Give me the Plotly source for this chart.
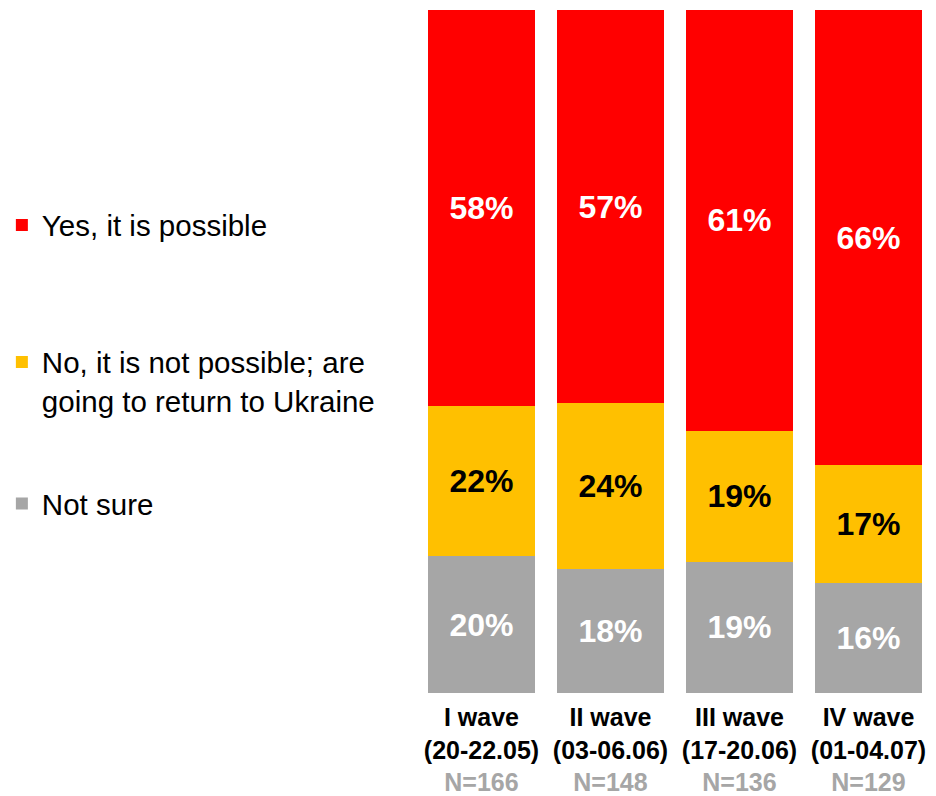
import plotly.graph_objects as go

waves = ["I wave", "II wave", "III wave", "IV wave"]
periods = ["(20-22.05)", "(03-06.06)", "(17-20.06)", "(01-04.07)"]
sample_sizes = [166, 148, 136, 129]

yes_possible = [58, 57, 61, 66]
no_return = [22, 24, 19, 17]
not_sure = [20, 18, 19, 16]

FONT = "Arial, 'Liberation Sans', sans-serif"
RED = "#FF0000"
YELLOW = "#FFC000"
GRAY = "#A6A6A6"

tick_text = [
    f"<b>{w}</b><br><b>{p}</b><br><b><span style='color:{GRAY}'>N={n}</span></b>"
    for w, p, n in zip(waves, periods, sample_sizes)
]

# (name, values, fill, label colour, legend id, legend centre y in container units)
series = [
    ("Not sure", not_sure, GRAY, "white", "legend3", 0.367),
    ("No, it is not possible; are<br>going to return to Ukraine", no_return, YELLOW, "black", "legend2", 0.521),
    ("Yes, it is possible", yes_possible, RED, "white", "legend", 0.717),
]

fig = go.Figure()
legend_layouts = {}
for name, vals, color, tcolor, leg, ly in series:
    fig.add_trace(go.Bar(
        x=waves,
        y=vals,
        name=name,
        legend=leg,
        showlegend=True,
        marker=dict(color=color, line=dict(width=0)),
        text=[f"{v}%" for v in vals],
        textposition="inside",
        insidetextanchor="middle",
        constraintext="none",
        textfont=dict(family=FONT, size=32, color=tcolor, weight="bold"),
        textangle=0,
    ))
    legend_layouts[leg] = dict(
        xref="container", yref="container",
        x=0.002, xanchor="left",
        y=ly, yanchor="middle",
        valign="top",
        font=dict(family=FONT, size=29.5, color="black"),
        bgcolor="rgba(0,0,0,0)",
    )

fig.update_layout(
    showlegend=True,
    barmode="stack",
    barnorm="percent",
    bargap=0.163,
    width=936,
    height=796,
    margin=dict(l=417, r=3, t=10, b=103, autoexpand=False),
    paper_bgcolor="white",
    plot_bgcolor="white",
    font=dict(family=FONT, color="black"),
    xaxis=dict(
        tickmode="array",
        tickvals=waves,
        ticktext=tick_text,
        tickfont=dict(family=FONT, size=25, color="black"),
        ticklabelstandoff=7,
        automargin=False,
        showline=False,
        showgrid=False,
        ticks="",
    ),
    yaxis=dict(
        range=[0, 100],
        visible=False,
        showgrid=False,
    ),
    **legend_layouts,
)

fig.write_html("out.html")
